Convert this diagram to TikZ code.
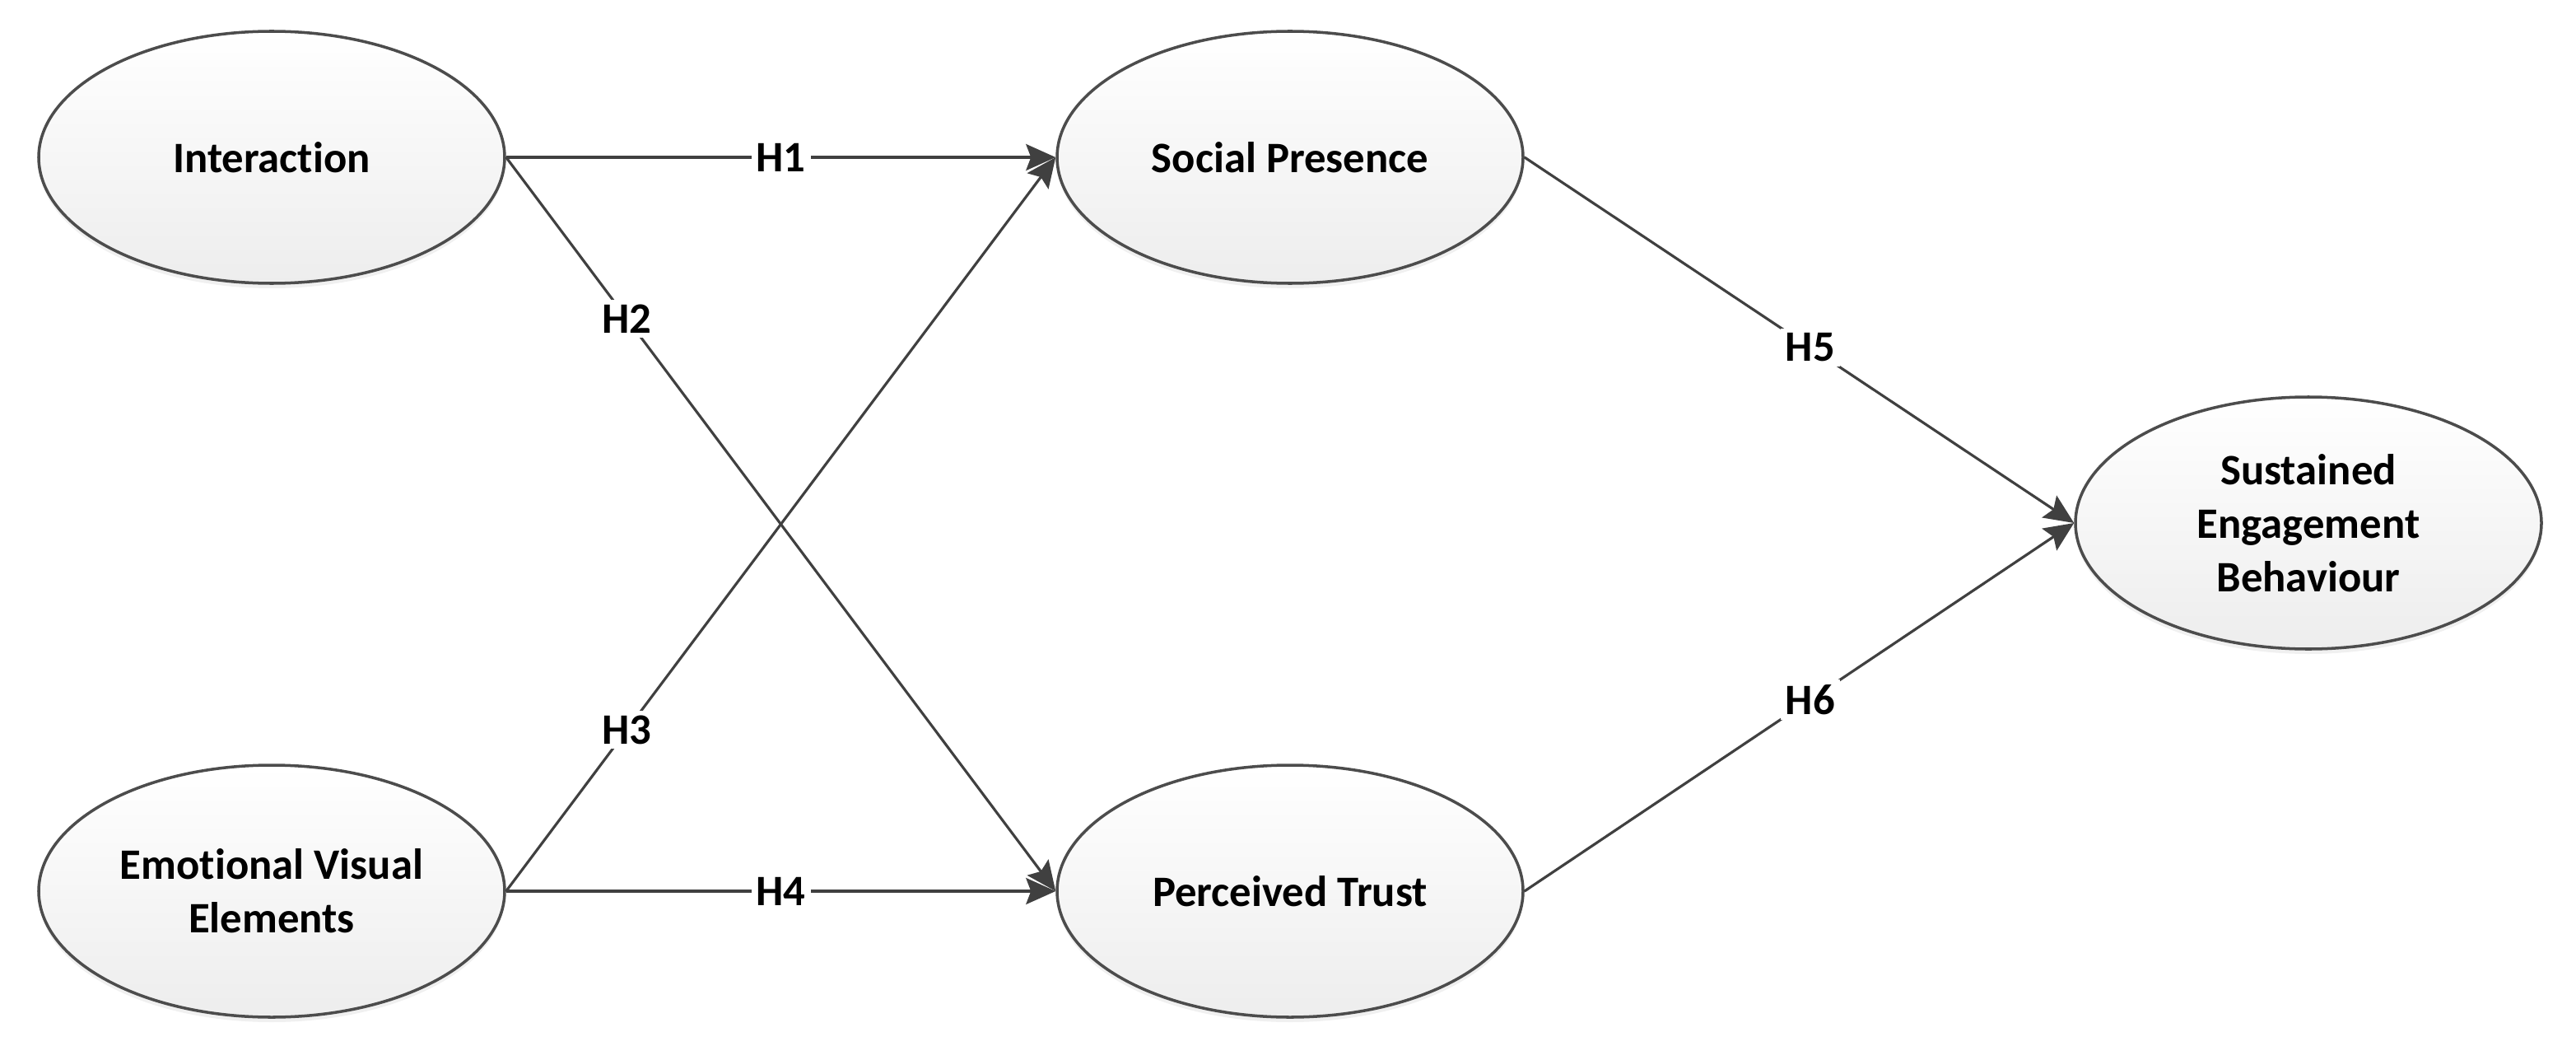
\documentclass[tikz,border=0pt]{standalone}
\usepackage{fontspec}
\setmainfont[Ligatures=NoCommon]{Carlito}
\usetikzlibrary{arrows.meta,shapes.geometric,shadows,positioning}

\tikzset{
  construct/.style={ellipse,draw=black!70,line width=1pt,
    top color=white,bottom color=black!7,
    minimum width=5.66cm,minimum height=3.06cm,inner sep=0pt,
    align=center,
    drop shadow={opacity=.12,shadow xshift=0pt,shadow yshift=-.6mm}},
  hyp/.style={draw=black!75,line width=.9pt,
    -{Stealth[length=3.6mm,width=3.2mm,inset=.6mm]}},
  hlab/.style={fill=white,inner sep=.6mm}
}

\begin{document}
\begin{tikzpicture}[every node/.style={font=\fontsize{15}{18.5}\selectfont\bfseries}]
 \useasboundingbox (0,0) rectangle (31.29,12.69);

 \node[construct] (Int) at (3.30,10.78) {Interaction};
 \node[construct] (EVE) at (3.30,1.87) {Emotional Visual\\Elements};
 \node[construct] (SP) at (15.67,10.78) {Social Presence};
 \node[construct] (PT) at (15.67,1.87) {Perceived Trust};
 \node[construct] (SEB) at (28.04,6.34) {Sustained\\Engagement\\Behaviour};

\foreach \f/\t/\h/\p in {Int/SP/H1/.5,Int/PT/H2/.22,EVE/SP/H3/.22,EVE/PT/H4/.5,SP/SEB/H5/.52,PT/SEB/H6/.52}
 \draw[hyp] (\f.east) -- node[hlab,pos=\p] {\h} (\t.west);
\end{tikzpicture}
\end{document}
